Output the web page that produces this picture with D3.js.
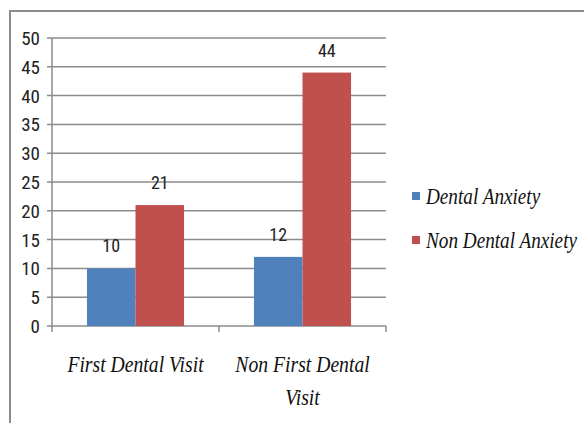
<!DOCTYPE html>
<html><head><meta charset="utf-8">
<script src="https://cdn.jsdelivr.net/npm/d3@7"></script>
<style>body{margin:0;background:#fff}svg{display:block}</style>
</head><body>
<script>
const categories = [["First Dental Visit"], ["Non First Dental", "Visit"]];
const seriesNames = ["Dental Anxiety", "Non Dental Anxiety"];
const dentalAnxiety = [10, 12];
const nonDentalAnxiety = [21, 44];
const yTicks = [0, 5, 10, 15, 20, 25, 30, 35, 40, 45, 50];
const colors = ["#4F81BD", "#C0504D"];

const SERIF = "'Liberation Serif', 'Times New Roman', serif";
const SANS = "'Roboto Condensed', 'Liberation Sans', sans-serif";

const W = 584, H = 423;
const svg = d3.select("body").append("svg").attr("width", W).attr("height", H);

// outer frame
svg.append("path").attr("d", "M10,423 V11 H584").attr("fill", "none")
  .attr("stroke", "#8c8c8c").attr("stroke-width", 2);

const x0 = 52, x1 = 386, yTop = 38, yBot = 326;
const y = d3.scaleLinear().domain([0, 50]).range([yBot, yTop]);
const xb = d3.scaleBand().domain(d3.range(categories.length)).range([x0, x1]);
const xs = d3.scaleBand().domain([0, 1]).range([0, xb.bandwidth()]).paddingInner(0).paddingOuter(0.72);

// gridlines
svg.append("g").selectAll("line").data(yTicks).join("line")
  .attr("x1", x0 - 5).attr("x2", x1).attr("y1", d => y(d)).attr("y2", d => y(d))
  .attr("stroke", "#8c8c8c").attr("stroke-width", 1.5);

// y axis line
svg.append("line").attr("x1", x0).attr("x2", x0).attr("y1", yTop).attr("y2", yBot + 6)
  .attr("stroke", "#8c8c8c").attr("stroke-width", 1.5);
// x tick marks
svg.append("g").selectAll("line").data([1, 2]).join("line")
  .attr("x1", d => x0 + d * xb.bandwidth()).attr("x2", d => x0 + d * xb.bandwidth())
  .attr("y1", yBot).attr("y2", yBot + 6)
  .attr("stroke", "#8c8c8c").attr("stroke-width", 1.5);

// y tick labels
svg.append("g").selectAll("text").data(yTicks).join("text")
  .style("font-family", SANS).style("font-size", "19px")
  .attr("x", 40).attr("y", d => y(d) + 7)
  .attr("text-anchor", "end").attr("fill", "#222").text(d => d);

// bars
const data = [dentalAnxiety, nonDentalAnxiety];
const groups = svg.append("g").selectAll("g").data(categories).join("g")
  .attr("transform", (d, i) => `translate(${xb(i)},0)`);
groups.each(function (c, i) {
  const g = d3.select(this);
  [0, 1].forEach(s => {
    const v = data[s][i];
    g.append("rect").attr("x", xs(s)).attr("width", xs.bandwidth())
      .attr("y", y(v)).attr("height", yBot - y(v)).attr("fill", colors[s]);
    g.append("text")
      .style("font-family", SANS).style("font-size", "18px")
      .attr("x", xs(s) + xs.bandwidth() / 2).attr("y", y(v) - 16)
      .attr("text-anchor", "middle").attr("fill", "#222").text(v);
  });
  c.forEach((line, k) => {
    g.append("text")
      .style("font-family", SERIF).style("font-style", "italic").style("font-size", "24px")
      .attr("transform", `translate(${xb.bandwidth() / 2},${372 + k * 33}) scale(0.82,1)`)
      .attr("text-anchor", "middle").attr("fill", "#111").text(line);
  });
});

// legend
const leg = svg.append("g").selectAll("g").data(seriesNames).join("g")
  .attr("transform", (d, i) => `translate(412,${192 + i * 44})`);
leg.append("rect").attr("width", 8).attr("height", 8).attr("fill", (d, i) => colors[i]);
leg.append("text").attr("transform", "translate(14,12) scale(0.8,1)")
  .style("font-family", SERIF).style("font-style", "italic").style("font-size", "24px")
  .attr("fill", "#111").text(d => d);
</script>
</body></html>
